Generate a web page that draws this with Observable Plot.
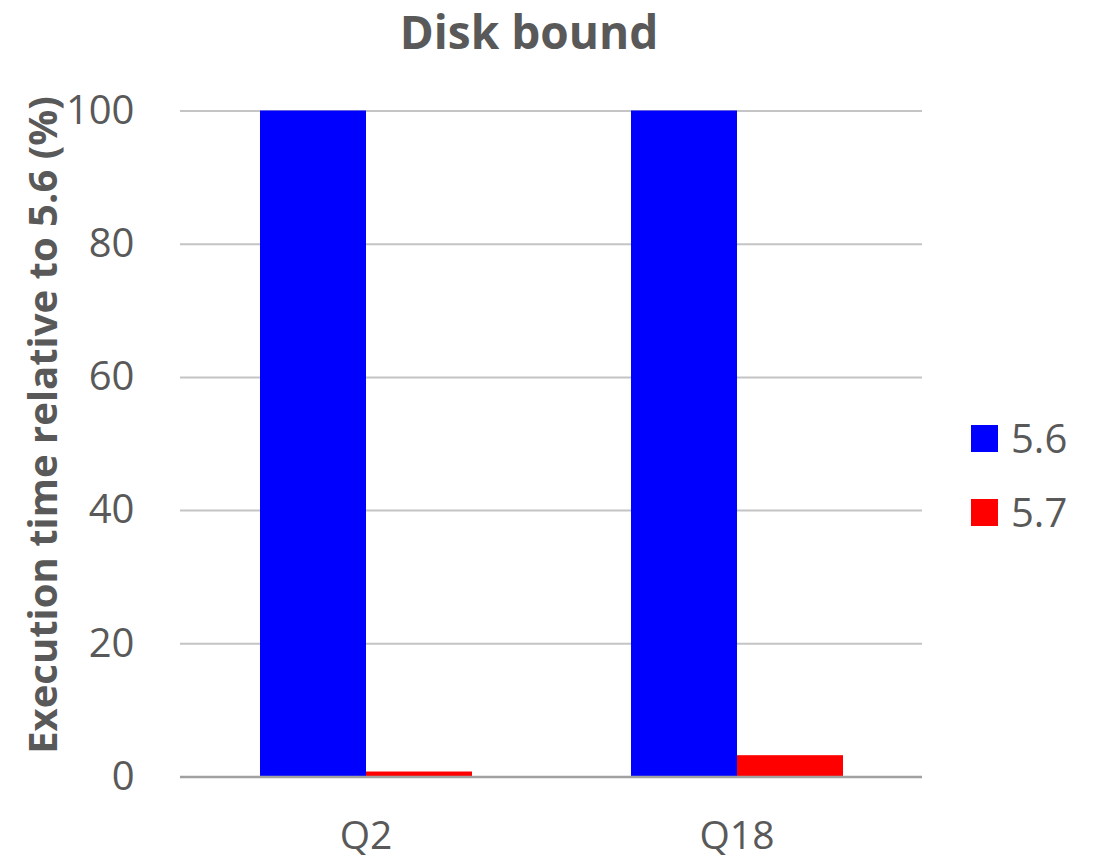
<!DOCTYPE html>
<html>
<head>
<meta charset="utf-8">
<script src="https://cdn.jsdelivr.net/npm/d3@7"></script>
<script src="https://cdn.jsdelivr.net/npm/@observablehq/plot@0.6"></script>
<style>
  html, body { margin: 0; padding: 0; background: #fff; }
  #wrap { position: relative; width: 1099px; height: 860px; font-family: "Open Sans", sans-serif; color: #595959; }
  #wrap svg { position: absolute; left: 0; top: 0; }
  .title { position: absolute; left: 0; width: 1058px; top: 0px; text-align: center; font-size: 46px; font-weight: bold; line-height: 63px; }
  .ylabel { position: absolute; left: 42px; top: 425px; transform: translate(-50%, -50%) rotate(-90deg); white-space: nowrap; font-size: 40px; font-weight: bold; line-height: 56px; }
  .legend { position: absolute; left: 971px; }
  .legend .item { position: absolute; left: 0; white-space: nowrap; height: 56px; }
  .legend .sw { position: absolute; left: 0; top: 15px; width: 27px; height: 27px; }
  .legend .lab { position: absolute; left: 40px; top: 0; font-size: 40px; line-height: 56px; }
</style>
</head>
<body>
<div id="wrap"></div>
<script>
const categories = ["Q2", "Q18"];
const series = ["5.6", "5.7"];
const values56 = [100, 100];
const values57 = [0.75, 3.2];
const colors = ["#0000ff", "#ff0000"];
const yTicks = [0, 20, 40, 60, 80, 100];
const titleText = "Disk bound";
const yLabelText = "Execution time relative to 5.6 (%)";

const rows = [];
categories.forEach((c, i) => {
  rows.push({cat: c, series: series[0], value: values56[i]});
  rows.push({cat: c, series: series[1], value: values57[i]});
});

const chart = Plot.plot({
  width: 1099,
  height: 860,
  marginTop: 110.5,
  marginBottom: 83.5,
  marginLeft: 179,
  marginRight: 176.5,
  style: {fontFamily: "Open Sans", background: "transparent"},
  fx: {domain: categories, paddingInner: 0, paddingOuter: 0},
  x: {domain: series, paddingInner: 0, paddingOuter: 0.75, axis: null},
  y: {domain: [0, 100]},
  color: {domain: series, range: colors},
  marks: [
    Plot.gridY(yTicks.filter(d => d !== 0), {stroke: "#c4c4c4", strokeOpacity: 1, strokeWidth: 2}),
    Plot.barY(rows, {fx: "cat", x: "series", y: "value", fill: "series"}),
    Plot.ruleY([0], {stroke: "#a0a0a0", strokeWidth: 2.5}),
    Plot.axisY({ticks: yTicks, tickSize: 0, tickPadding: 46, fontSize: 40, color: "#595959", label: null}),
    Plot.axisFx({anchor: "bottom", tickSize: 0, tickPadding: 44, fontSize: 39, color: "#595959", label: null})
  ]
});

const wrap = document.getElementById("wrap");
wrap.appendChild(chart);

const t = document.createElement("div");
t.className = "title";
t.textContent = titleText;
wrap.appendChild(t);

const yl = document.createElement("div");
yl.className = "ylabel";
yl.textContent = yLabelText;
wrap.appendChild(yl);

const leg = document.createElement("div");
leg.className = "legend";
leg.style.top = "410px";
series.forEach((s, i) => {
  const it = document.createElement("div");
  it.className = "item";
  it.style.top = (i * 74) + "px";
  const sw = document.createElement("div");
  sw.className = "sw";
  sw.style.background = colors[i];
  const lb = document.createElement("div");
  lb.className = "lab";
  lb.textContent = s;
  it.appendChild(sw);
  it.appendChild(lb);
  leg.appendChild(it);
});
wrap.appendChild(leg);
</script>
</body>
</html>
